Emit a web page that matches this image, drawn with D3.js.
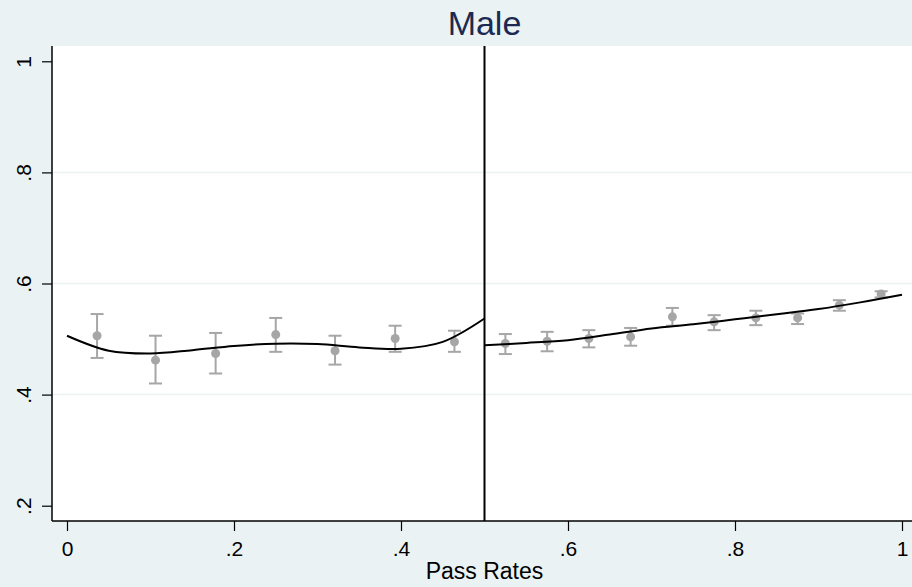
<!DOCTYPE html>
<html>
<head>
<meta charset="utf-8">
<script src="https://cdn.jsdelivr.net/npm/d3@7"></script>
<style>
  body { margin: 0; background: #eaf2f3; }
  svg { display: block; font-family: "Liberation Sans", Arial, sans-serif; }
</style>
</head>
<body>
<script>
// binned means with 95% CIs, left of cutoff
const leftX = [0.036, 0.106, 0.178, 0.25, 0.321, 0.393, 0.464];
const leftY = [0.506, 0.462, 0.474, 0.508, 0.479, 0.501, 0.495];
const leftLo = [0.466, 0.420, 0.438, 0.477, 0.454, 0.477, 0.477];
const leftHi = [0.545, 0.506, 0.511, 0.538, 0.506, 0.524, 0.515];

// right of cutoff
const rightX = [0.525, 0.575, 0.625, 0.675, 0.725, 0.775, 0.825, 0.875, 0.925, 0.975];
const rightY = [0.492, 0.496, 0.501, 0.504, 0.540, 0.531, 0.538, 0.538, 0.561, 0.581];
const rightLo = [0.473, 0.478, 0.485, 0.488, 0.524, 0.516, 0.525, 0.527, 0.551, 0.575];
const rightHi = [0.509, 0.513, 0.516, 0.520, 0.556, 0.543, 0.551, 0.546, 0.570, 0.586];

// fitted polynomial
const fitLeftX = [0, 0.05, 0.1, 0.15, 0.2, 0.25, 0.3, 0.35, 0.4, 0.45, 0.5];
const fitLeftY = [0.506, 0.479, 0.474, 0.480, 0.4875, 0.4917, 0.491, 0.485, 0.4826, 0.495, 0.537];
const fitRightX = [0.5, 0.55, 0.6, 0.65, 0.7, 0.75, 0.8, 0.85, 0.9, 0.95, 1.0];
const fitRightY = [0.489, 0.493, 0.498, 0.508, 0.519, 0.5266, 0.5355, 0.5445, 0.554, 0.566, 0.5796];

const xTicks = [0, 0.2, 0.4, 0.6, 0.8, 1];
const yTicks = [0.2, 0.4, 0.6, 0.8, 1];
const gridTicks = [0.4, 0.6, 0.8];
const cutoff = 0.5;

const width = 912, height = 587;
const plotLeft = 52, plotTop = 46, plotRight = 912, plotBottom = 521;

const x = d3.scaleLinear().domain([0, 1]).range([67, 902]);
const y = d3.scaleLinear().domain([0.2, 1]).range([505.7, 61.3]);

const fmt = d => (d === 0 || d === 1) ? String(d) : d3.format('.1f')(d).replace(/^0/, '');

const svg = d3.select('body').append('svg')
  .attr('width', width)
  .attr('height', height);

svg.append('rect')
  .attr('width', width).attr('height', height)
  .attr('fill', '#eaf2f3');

svg.append('rect')
  .attr('x', plotLeft).attr('y', plotTop)
  .attr('width', plotRight - plotLeft).attr('height', plotBottom - plotTop)
  .attr('fill', 'white');

// grid
svg.append('g').selectAll('line')
  .data(gridTicks)
  .join('line')
  .attr('x1', plotLeft).attr('x2', plotRight)
  .attr('y1', d => y(d)).attr('y2', d => y(d))
  .attr('stroke', '#eaf2f3')
  .attr('stroke-width', 1.5);

// axes
const yAxis = svg.append('g')
  .attr('transform', `translate(${plotLeft},0)`)
  .call(d3.axisLeft(y).tickValues(yTicks).tickSize(10).tickSizeOuter(0).tickFormat(fmt));
yAxis.select('.domain').attr('d', `M0,${plotTop}V${plotBottom}`).attr('stroke', 'black').attr('stroke-width', 1.5);
yAxis.selectAll('.tick line').attr('stroke', 'black').attr('stroke-width', 1.2);
yAxis.selectAll('.tick text')
  .attr('font-size', 21)
  .attr('fill', 'black')
  .attr('text-anchor', 'middle')
  .attr('x', null).attr('dy', null)
  .attr('transform', 'translate(-21,0) rotate(-90)');

const xAxis = svg.append('g')
  .attr('transform', `translate(0,${plotBottom})`)
  .call(d3.axisBottom(x).tickValues(xTicks).tickSize(10).tickSizeOuter(0).tickFormat(fmt));
xAxis.select('.domain').attr('d', `M${plotLeft},0H${plotRight}`).attr('stroke', 'black').attr('stroke-width', 1.5);
xAxis.selectAll('.tick line').attr('stroke', 'black').attr('stroke-width', 1.2);
xAxis.selectAll('.tick text')
  .attr('font-size', 21)
  .attr('fill', 'black')
  .attr('dy', null)
  .attr('y', 35);

svg.append('text')
  .attr('x', x(0.5)).attr('y', 579)
  .attr('text-anchor', 'middle')
  .attr('font-size', 23)
  .attr('fill', 'black')
  .text('Pass Rates');

svg.append('text')
  .attr('x', x(0.5)).attr('y', 35)
  .attr('text-anchor', 'middle')
  .attr('font-size', 34)
  .attr('fill', '#1c2a52')
  .text('Male');

// cutoff line
svg.append('line')
  .attr('x1', x(cutoff)).attr('x2', x(cutoff))
  .attr('y1', plotTop).attr('y2', plotBottom)
  .attr('stroke', 'black').attr('stroke-width', 2);

// binned points
function drawBins(xs, ys, lo, hi) {
  const data = xs.map((d, i) => ({x: d, y: ys[i], lo: lo[i], hi: hi[i]}));
  const g = svg.append('g').attr('stroke', '#a6a6a6').attr('fill', '#a6a6a6');
  const bar = g.selectAll('g').data(data).join('g');
  bar.append('line')
    .attr('x1', d => x(d.x)).attr('x2', d => x(d.x))
    .attr('y1', d => y(d.lo)).attr('y2', d => y(d.hi))
    .attr('stroke-width', 2);
  bar.append('line')
    .attr('x1', d => x(d.x) - 6.5).attr('x2', d => x(d.x) + 6.5)
    .attr('y1', d => y(d.lo)).attr('y2', d => y(d.lo))
    .attr('stroke-width', 2);
  bar.append('line')
    .attr('x1', d => x(d.x) - 6.5).attr('x2', d => x(d.x) + 6.5)
    .attr('y1', d => y(d.hi)).attr('y2', d => y(d.hi))
    .attr('stroke-width', 2);
  bar.append('circle')
    .attr('cx', d => x(d.x)).attr('cy', d => y(d.y))
    .attr('r', 4.5)
    .attr('stroke', 'none');
}
drawBins(leftX, leftY, leftLo, leftHi);
drawBins(rightX, rightY, rightLo, rightHi);

// fitted lines
const line = d3.line()
  .x(d => x(d[0])).y(d => y(d[1]))
  .curve(d3.curveCatmullRom);
svg.append('path')
  .attr('d', line(fitLeftX.map((d, i) => [d, fitLeftY[i]])))
  .attr('fill', 'none').attr('stroke', 'black').attr('stroke-width', 2);
svg.append('path')
  .attr('d', line(fitRightX.map((d, i) => [d, fitRightY[i]])))
  .attr('fill', 'none').attr('stroke', 'black').attr('stroke-width', 2);
</script>
</body>
</html>
